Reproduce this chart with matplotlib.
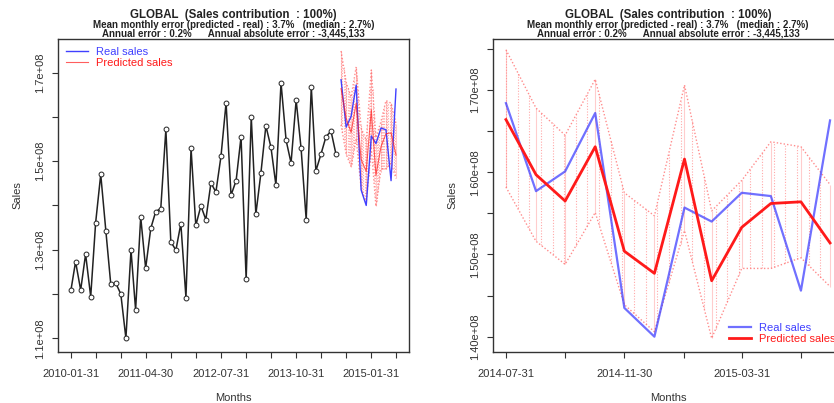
import numpy as np
import pandas as pd
import matplotlib
matplotlib.use('Agg')
import matplotlib.pyplot as plt
import matplotlib.dates as mdates

plt.rcParams['font.family'] = ['Liberation Sans', 'DejaVu Sans']

# monthly history 2010-01 .. 2014-06
hist_sales = [1.209e8, 1.273e8, 1.209e8, 1.290e8, 1.194e8, 1.361e8, 1.470e8, 1.343e8,
              1.222e8, 1.224e8, 1.200e8, 1.100e8, 1.299e8, 1.164e8, 1.374e8, 1.258e8,
              1.348e8, 1.386e8, 1.393e8, 1.572e8, 1.318e8, 1.299e8, 1.359e8, 1.192e8,
              1.529e8, 1.355e8, 1.399e8, 1.368e8, 1.451e8, 1.430e8, 1.511e8, 1.632e8,
              1.423e8, 1.456e8, 1.555e8, 1.233e8, 1.600e8, 1.380e8, 1.474e8, 1.580e8,
              1.531e8, 1.446e8, 1.677e8, 1.547e8, 1.496e8, 1.638e8, 1.529e8, 1.368e8,
              1.668e8, 1.478e8, 1.516e8, 1.555e8, 1.568e8, 1.516e8]
# forecast window 2014-07 .. 2015-06
real_sales = [1.684e8, 1.577e8, 1.601e8, 1.672e8, 1.435e8, 1.400e8,
              1.557e8, 1.540e8, 1.575e8, 1.571e8, 1.456e8, 1.663e8]
pred_sales = [1.664e8, 1.597e8, 1.565e8, 1.631e8, 1.504e8, 1.477e8,
              1.616e8, 1.468e8, 1.533e8, 1.562e8, 1.564e8, 1.514e8]
pred_upper = [1.749e8, 1.678e8, 1.645e8, 1.713e8, 1.575e8, 1.547e8,
              1.706e8, 1.553e8, 1.590e8, 1.637e8, 1.631e8, 1.585e8]
pred_lower = [1.582e8, 1.516e8, 1.488e8, 1.551e8, 1.439e8, 1.406e8,
              1.529e8, 1.398e8, 1.483e8, 1.483e8, 1.496e8, 1.461e8]

hist_months = pd.date_range('2010-01-31', periods=len(hist_sales), freq='ME')
fc_months = pd.date_range('2014-07-31', periods=len(real_sales), freq='ME')

title1 = 'GLOBAL  (Sales contribution  : 100%)'
title2 = 'Mean monthly error (predicted - real) : 3.7%   (median : 2.7%)'
title3 = 'Annual error : 0.2%      Annual absolute error : -3,445,133'

blue = '#4040ff'
red = '#ff1a1a'
band = '#ff7070'


def draw_band(ax, step):
    xn = mdates.date2num(fc_months)
    hx = np.arange(xn[0], xn[-1] + 0.1, step)
    ax.vlines(hx, np.interp(hx, xn, pred_lower), np.interp(hx, xn, pred_upper),
              colors=band, linestyles=(0, (1, 1.5)), lw=0.8, alpha=0.6)
    ax.vlines(fc_months, pred_lower, pred_upper, colors=band, lw=0.8, alpha=0.35)
    ax.plot(fc_months, pred_upper, color=band, ls=(0, (1, 1.5)), lw=1, alpha=0.8)
    ax.plot(fc_months, pred_lower, color=band, ls=(0, (1, 1.5)), lw=1, alpha=0.8)


def style(ax, x0, x1):
    pad = (mdates.date2num(pd.Timestamp(x1)) - mdates.date2num(pd.Timestamp(x0))) * 0.04
    ax.set_xlim(mdates.date2num(pd.Timestamp(x0)) - pad, mdates.date2num(pd.Timestamp(x1)) + pad)
    for s in ax.spines.values():
        s.set_color('#333333')
        s.set_linewidth(1)
    ax.tick_params(direction='out', length=4, labelsize=8, colors='#333333')
    ax.tick_params(axis='x', pad=8)
    ax.tick_params(axis='y', pad=5.5)
    ax.set_xlabel('Months', fontsize=8, color='#333333', labelpad=10)
    ax.set_ylabel('Sales', fontsize=8, color='#333333', labelpad=9)
    for lbl in ax.get_yticklabels():
        lbl.set_rotation(90)
        lbl.set_va('center')


fig = plt.figure(figsize=(8.34, 4.03), dpi=100)
ax1 = fig.add_axes([0.0695, 0.1266, 0.4209, 0.7766])
ax2 = fig.add_axes([0.5911, 0.1266, 0.4197, 0.7766])

# left: full history
ax1.plot(hist_months, hist_sales, color='#222222', lw=1.1, marker='o', ms=3.5,
         mfc='white', mec='#222222', mew=0.7)
draw_band(ax1, 8)
ax1.plot(fc_months, real_sales, color=blue, lw=1, label='Real sales')
ax1.plot(fc_months, pred_sales, color=red, lw=0.8, alpha=0.7, label='Predicted sales')
ax1.set_ylim(1.069e8, 1.776e8)
l_ticks = pd.date_range('2010-01-31', '2015-06-30', freq='5ME')
ax1.set_xticks(l_ticks)
ax1.set_xticklabels([d.strftime('%Y-%m-%d') if i % 3 == 0 else '' for i, d in enumerate(l_ticks)])
yt = np.arange(1.1e8, 1.75e8, 1e7)
ax1.set_yticks(yt)
ax1.set_yticklabels(['1.1e+08', '', '1.3e+08', '', '1.5e+08', '', '1.7e+08'])
style(ax1, '2010-01-31', '2015-06-30')
ax1.legend(loc='upper left', frameon=False, fontsize=8, labelcolor='linecolor',
           handlelength=2.0, handletextpad=0.7, borderaxespad=0.3, labelspacing=0.1)

# right: forecast window
draw_band(ax2, 12)
ax2.plot(fc_months, real_sales, color=blue, lw=1.6, alpha=0.75, label='Real sales')
ax2.plot(fc_months, pred_sales, color=red, lw=2, label='Predicted sales')
ax2.set_ylim(1.3814e8, 1.762e8)
r_ticks = pd.date_range('2014-07-31', '2015-06-30', freq='2ME')
ax2.set_xticks(r_ticks)
ax2.set_xticklabels([d.strftime('%Y-%m-%d') if i % 2 == 0 else '' for i, d in enumerate(r_ticks)])
yt2 = np.arange(1.40e8, 1.76e8, 5e6)
ax2.set_yticks(yt2)
ax2.set_yticklabels(['%.2fe+08' % (v / 1e8) if i % 2 == 0 else '' for i, v in enumerate(yt2)])
style(ax2, '2014-07-31', '2015-06-30')
ax2.legend(loc='lower right', frameon=False, fontsize=8, labelcolor='linecolor',
           handlelength=2.0, handletextpad=0.7, borderaxespad=0.3, labelspacing=0.1)

for ax in (ax1, ax2):
    p = ax.get_position()
    cx = (p.x0 + p.x1) / 2
    fig.text(cx, 1 - 15 / 403, title1, ha='center', va='center', fontsize=8.3, fontweight='bold', color='#222222')
    fig.text(cx, 1 - 25 / 403, title2, ha='center', va='center', fontsize=7.0, fontweight='bold', color='#222222')
    fig.text(cx, 1 - 34 / 403, title3, ha='center', va='center', fontsize=7.0, fontweight='bold', color='#222222')

fig.savefig('out.png', dpi=100)
